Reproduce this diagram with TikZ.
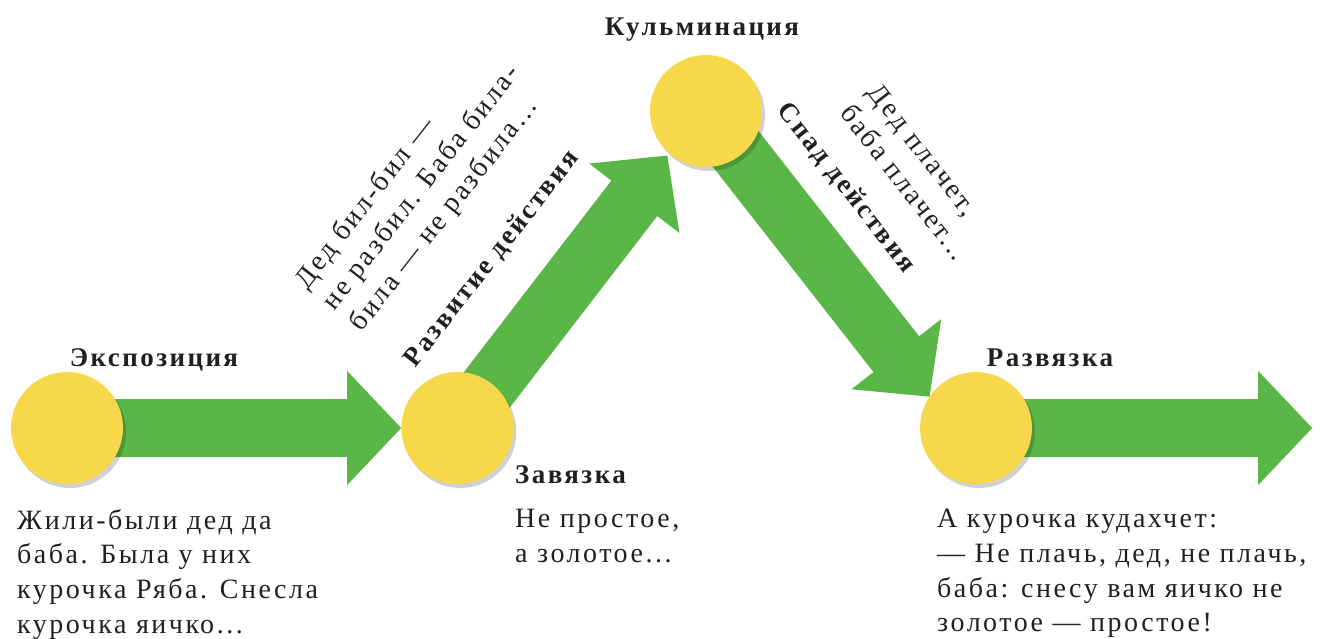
\documentclass[tikz,border=0pt]{standalone}
\usepackage{fontspec}
\setmainfont{Liberation Serif}[LetterSpace=9]
\usepackage{xcolor}
\usepackage{tikz}
\usetikzlibrary{calc,positioning,shadows}
\definecolor{arrowgreen}{HTML}{5BB648}
\definecolor{dotyellow}{HTML}{F7D84A}
\definecolor{inkgray}{HTML}{231F20}
\pgfdeclarelayer{back}
\pgfsetlayers{back,main}

% fat arrow from a circle centre to a tip point
\newcommand\fatarrow[2]{%
  \path ($(#2)!54pt!(#1)$) coordinate (hb);
  \fill[arrowgreen] ($(#1)!29pt!90:(#2)$) -- ($(hb)!29pt!90:(#2)$) -- ($(hb)!57pt!90:(#2)$) -- (#2)
    -- ($(hb)!57pt!-90:(#2)$) -- ($(hb)!29pt!-90:(#2)$) -- ($(#1)!29pt!-90:(#2)$) -- cycle;}

\begin{document}
\begin{tikzpicture}[
  x=1pt, y=-1pt,
  font=\fontsize{28}{34.7}\selectfont,
  dot/.style={
    circle,
    fill=dotyellow,
    minimum size=112pt,
    inner sep=0pt,
    drop shadow={shadow xshift=3pt,shadow yshift=-4pt,fill=black,opacity=0.18}
  },
  stage/.style={font=\fontsize{27}{32}\selectfont\bfseries,text=inkgray,inner sep=0pt},
  tale/.style={align=left,text=inkgray,inner sep=0pt}
]
  \useasboundingbox (0,0) rectangle (1329,638);

  \node[dot] (c1) at (67,428) {};
  \node[dot,right=278pt of c1] (c2) {};
  \node[dot] (c3) at (706,111) {};
  \node[dot] (c4) at (976,428) {};

  \coordinate (peak) at ($(c3.center)+(229:59pt)$);
  \coordinate (land) at ($(c4.center)+(146:56pt)$);
  \coordinate[right=280pt of c4] (exit);

  \begin{pgfonlayer}{back}
    \fatarrow{c1.center}{c2.west}
    \fatarrow{c2.center}{peak}
    \fatarrow{c3.center}{land}
    \fatarrow{c4.center}{exit}
  \end{pgfonlayer}

  % stage names
  \node[stage,anchor=base] (expo) at (154,366) {Экспозиция};
  \node[stage,anchor=base west] (tie) at (515,483) {Завязка};
  \node[stage,anchor=base] (climax) at (702,35) {Кульминация};
  \node[stage,anchor=base] (outcome) at (1050,366) {Развязка};
  \node[stage,rotate=52] (rise) at (492,259) {Развитие действия};
  \node[stage,rotate=-52] (fall) at (846,188) {Спад действия};

  % tale lines
  \node[tale,anchor=north west] (tale1) at (17,509)
    {Жили-были дед да\\баба. Была у них\\курочка Ряба. Снесла\\курочка яичко...};
  \node[tale,anchor=north west] (tale2) at (515,509)
    {Не простое,\\а золотое...};
  \node[tale,anchor=north west] (tale4) at (937,509)
    {А курочка кудахчет:\\— Не плачь, дед, не плачь,\\баба: снесу вам яичко не\\золотое — простое!};
  \node[tale,rotate=52] (tale2b) at (422,188)
    {Дед бил-бил —\\не разбил. Баба била-\\била — не разбила...};
  \node[tale,rotate=-52] (tale3) at (918,172)
    {Дед плачет,\\баба плачет...};
\end{tikzpicture}
\end{document}
